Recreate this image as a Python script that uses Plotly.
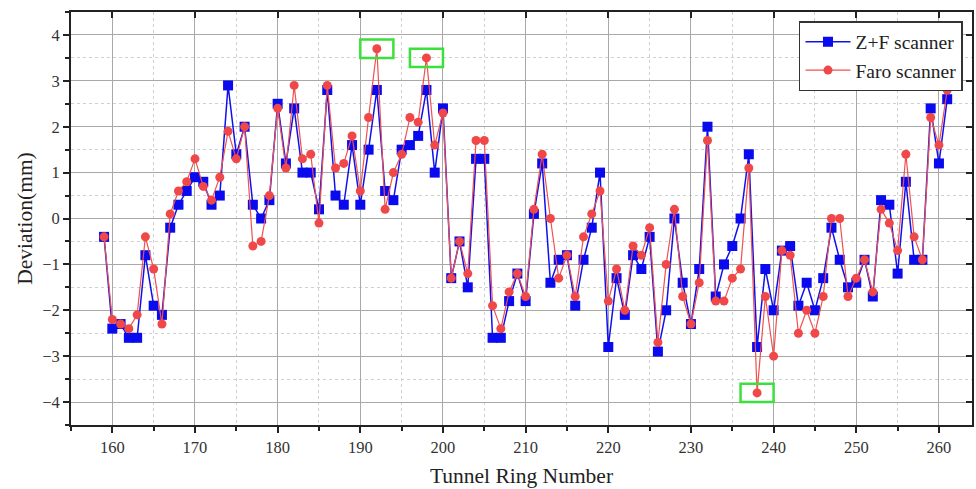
import plotly.graph_objects as go

rings = list(range(159, 262))

zf_scanner = [
    -0.4, -2.4, -2.3, -2.6, -2.6, -0.8, -1.9, -2.1, -0.2, 0.3,
    0.6, 0.9, 0.8, 0.3, 0.5, 2.9, 1.4, 2.0, 0.3, 0.0,
    0.4, 2.5, 1.2, 2.4, 1.0, 1.0, 0.2, 2.8, 0.5, 0.3,
    1.6, 0.3, 1.5, 2.8, 0.6, 0.4, 1.5, 1.6, 1.8, 2.8,
    1.0, 2.4, -1.3, -0.5, -1.5, 1.3, 1.3, -2.6, -2.6, -1.8,
    -1.2, -1.8, 0.1, 1.2, -1.4, -0.9, -0.8, -1.9, -0.9, -0.2,
    1.0, -2.8, -1.3, -2.1, -0.8, -1.1, -0.4, -2.9, -2.0, 0.0,
    -1.4, -2.3, -1.1, 2.0, -1.7, -1.0, -0.6, 0.0, 1.4, -2.8,
    -1.1, -2.0, -0.7, -0.6, -1.9, -1.4, -2.0, -1.3, -0.2, -0.9,
    -1.5, -1.4, -0.9, -1.7, 0.4, 0.3, -1.2, 0.8, -0.9, -0.9,
    2.4, 1.2, 2.6,
]

faro_scanner = [
    -0.4, -2.2, -2.3, -2.4, -2.1, -0.4, -1.1, -2.3, 0.1, 0.6,
    0.8, 1.3, 0.7, 0.4, 0.9, 1.9, 1.3, 2.0, -0.6, -0.5,
    0.5, 2.4, 1.1, 2.9, 1.3, 1.4, -0.1, 2.9, 1.1, 1.2,
    1.8, 0.6, 2.2, 3.7, 0.2, 1.0, 1.4, 2.2, 2.1, 3.5,
    1.6, 2.3, -1.3, -0.5, -1.2, 1.7, 1.7, -1.9, -2.4, -1.6,
    -1.2, -1.7, 0.2, 1.4, 0.0, -1.3, -0.8, -1.7, -0.4, 0.1,
    0.6, -1.8, -1.1, -2.0, -0.6, -0.8, -0.2, -2.7, -1.0, 0.2,
    -1.7, -2.3, -1.4, 1.7, -1.8, -1.8, -1.3, -1.1, 1.1, -3.8,
    -1.7, -3.0, -0.7, -0.8, -2.5, -2.0, -2.5, -1.7, 0.0, 0.0,
    -1.7, -1.3, -0.9, -1.6, 0.2, -0.1, -0.7, 1.4, -0.4, -0.9,
    2.2, 1.6, 2.8,
]

highlight_rings = [192, 198, 238]

x_ticks = list(range(160, 261, 10))
y_ticks = list(range(-4, 5))
x_range = [155, 264]
y_range = [-4.5, 4.5]

serif = "Liberation Serif, Times New Roman, serif"

fig = go.Figure()
fig.add_trace(go.Scatter(
    x=rings, y=zf_scanner, mode="lines+markers", name="Z+F scanner",
    line=dict(color="#1010ee", width=1.5),
    marker=dict(symbol="square", size=10, color="#0a0aee"),
))
fig.add_trace(go.Scatter(
    x=rings, y=faro_scanner, mode="lines+markers", name="Faro scanner",
    line=dict(color="#f05050", width=1.2),
    marker=dict(symbol="circle", size=9, color="#f04848"),
))
# invisible trace so the mirrored (inward-tick) axes get drawn
fig.add_trace(go.Scatter(
    x=rings[:1], y=zf_scanner[:1], xaxis="x2", yaxis="y2", mode="markers",
    marker=dict(opacity=0), showlegend=False, hoverinfo="skip",
))

for r in highlight_rings:
    v = faro_scanner[rings.index(r)]
    fig.add_shape(type="rect", xref="x", yref="y",
                  x0=r - 2, x1=r + 2, y0=v - 0.2, y1=v + 0.2,
                  line=dict(color="#3ce03c", width=2.5))

grid_major = "#a8a8a8"
grid_minor = "#d0d0d0"

fig.update_layout(
    width=976, height=489,
    margin=dict(l=71, r=2, t=12, b=64),
    paper_bgcolor="white", plot_bgcolor="white",
    font=dict(family=serif, color="#222"),
    showlegend=True,
    legend=dict(
        x=0.990, y=0.978, xanchor="right", yanchor="top",
        bgcolor="white", bordercolor="#333", borderwidth=1.5,
        font=dict(family=serif, size=19.5, color="#222"),
        itemwidth=45, tracegroupgap=0,
    ),
    xaxis=dict(
        range=x_range, tickvals=x_ticks, ticks="outside", ticklen=6,
        tickwidth=1.5, tickcolor="#222",
        showline=True, linecolor="#222", linewidth=2, mirror=True,
        showgrid=True, gridcolor=grid_major, gridwidth=1,
        zeroline=False,
        tickfont=dict(family=serif, size=16.5, color="#333"),
        title=dict(text="Tunnel Ring Number", font=dict(family=serif, size=21.5, color="#222"), standoff=12),
        minor=dict(dtick=5, tick0=155, ticks="outside", ticklen=4, tickcolor="#222",
                   showgrid=True, gridcolor=grid_minor, griddash="dot", gridwidth=1),
    ),
    yaxis=dict(
        range=y_range, tickvals=y_ticks, ticks="outside", ticklen=6,
        tickwidth=1.5, tickcolor="#222",
        showline=True, linecolor="#222", linewidth=2, mirror=True,
        showgrid=True, gridcolor=grid_major, gridwidth=1,
        zeroline=False,
        tickfont=dict(family=serif, size=16.5, color="#333"),
        ticktext=[("\u2212" + str(-t)) if t < 0 else str(t) for t in y_ticks],
        title=dict(text="Deviation(mm)", font=dict(family=serif, size=21.5, color="#222"), standoff=4),
        minor=dict(dtick=0.5, tick0=-4.5, ticks="outside", ticklen=4, tickcolor="#222",
                   showgrid=True, gridcolor=grid_minor, griddash="dot", gridwidth=1),
    ),
    xaxis2=dict(
        overlaying="x", side="top", range=x_range, tickvals=x_ticks,
        ticks="inside", ticklen=6, tickwidth=1.5, tickcolor="#222",
        showticklabels=False, showgrid=False, zeroline=False, showline=False,
    ),
    yaxis2=dict(
        overlaying="y", side="right", range=y_range, tickvals=y_ticks,
        ticks="inside", ticklen=6, tickwidth=1.5, tickcolor="#222",
        showticklabels=False, showgrid=False, zeroline=False, showline=False,
    ),
)

fig.write_html(
    "out.html",
    config={"displayModeBar": False},
    post_script="document.body.style.margin='0';document.body.style.overflow='hidden';",
)
